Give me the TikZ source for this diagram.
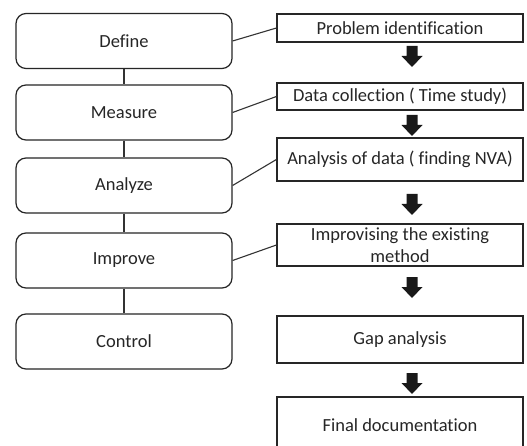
\documentclass[tikz,border=0pt]{standalone}
\usepackage{fontspec}
\setmainfont{Carlito}[Ligatures=CommonOff]
\begin{document}
\begin{tikzpicture}[x=1pt,y=-1pt,
  every node/.style={font=\fontsize{18.5}{22}\selectfont, text=black!85},
  phase/.style={draw=black!85, line width=1.2pt, rounded corners=10pt, minimum width=216pt, minimum height=55pt, inner sep=0pt},
  stepbox/.style={draw=black!85, line width=1.2pt, minimum width=246pt, inner sep=0pt, align=center},
  link/.style={draw=black!80, line width=1.1pt},
  downarr/.pic={\fill[black!90] (-5.5,0) -- (5.5,0) -- (5.5,10) -- (10.5,10) -- (0,21) -- (-10.5,10) -- (-5.5,10) -- cycle;}
]
\useasboundingbox (0,0) rectangle (527,446);
\clip (0,0) rectangle (527,446);
\fill[white] (0,0) rectangle (527,446);
% left phases
\node[phase] (define)  at (124,41)    {Define};
\node[phase] (measure) at (124,112.5) {Measure};
\node[phase] (analyze) at (124,185.5) {Analyze};
\node[phase] (improve) at (124,260.5) {Improve};
\node[phase] (control) at (124,341.5) {Control};
\draw[link] (define) -- (measure);
\draw[link] (measure) -- (analyze);
\draw[link] (analyze) -- (improve);
\draw[link] (improve) -- (control);
% right steps
\node[stepbox, minimum height=28pt] (prob) at (400,28)    {Problem identification};
\node[stepbox, minimum height=27pt] (data) at (400,96.5)  {Data collection ( Time study)};
\node[stepbox, minimum height=43pt] (anal) at (400,159.5) {Analysis of data ( finding NVA)};
\node[stepbox, minimum height=42pt] (impr) at (400,245)   {Improvising the existing\\method};
\node[stepbox, minimum height=47pt] (gap)  at (400,339.5) {Gap analysis};
\node[stepbox, minimum height=56pt] (fin)  at (400,425)   {Final documentation};
% connectors
\draw[link] (define.east) -- (prob.west);
\draw[link] (measure.east) -- (data.west);
\draw[link] (analyze.east) -- (anal.west);
\draw[link] (improve.east) -- (impr.west);
% block arrows
\pic at (412,46)  {downarr};
\pic at (412,115) {downarr};
\pic at (412,194) {downarr};
\pic at (412,277) {downarr};
\pic at (412,373) {downarr};
\end{tikzpicture}
\end{document}
